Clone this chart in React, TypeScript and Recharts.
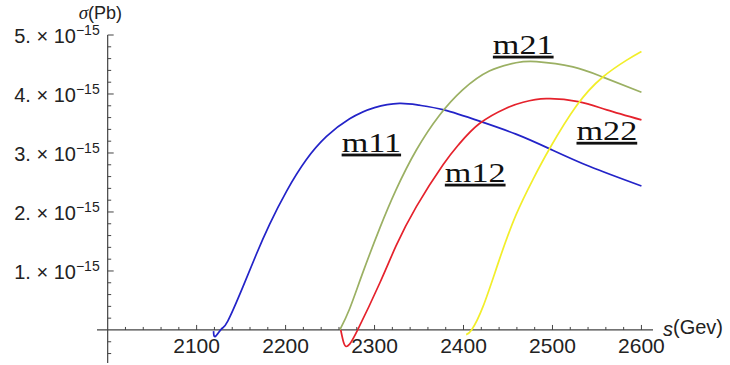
import React from "react";
import { LineChart, Line, XAxis, YAxis, ReferenceLine, ReferenceDot } from "recharts";

// s (GeV) and sigma (units of 1e-15 pb) for each curve
const m11S = [2119, 2121, 2128, 2135, 2152, 2167, 2182, 2201, 2223, 2246, 2272, 2300, 2328, 2350, 2378, 2418, 2459, 2497, 2542, 2600];
const m11V = [-0.02, -0.11, 0.02, 0.15, 0.73, 1.28, 1.79, 2.35, 2.88, 3.28, 3.58, 3.77, 3.84, 3.81, 3.73, 3.54, 3.32, 3.07, 2.77, 2.44];

const m21S = [2261, 2272, 2287, 2306, 2324, 2347, 2373, 2399, 2429, 2459, 2482, 2523, 2556, 2600];
const m21V = [0, 0.36, 0.98, 1.73, 2.37, 3.05, 3.64, 4.07, 4.39, 4.53, 4.55, 4.46, 4.29, 4.03];

const m12S = [2262, 2265, 2268, 2272, 2281, 2306, 2324, 2347, 2377, 2395, 2418, 2448, 2467, 2493, 2529, 2561, 2600];
const m12V = [0, -0.2, -0.28, -0.24, 0, 0.8, 1.42, 2.09, 2.8, 3.15, 3.5, 3.76, 3.86, 3.92, 3.87, 3.73, 3.56];

const m22S = [2403, 2409, 2422, 2440, 2459, 2478, 2497, 2527, 2556, 2583, 2600];
const m22V = [-0.08, 0, 0.4, 1.18, 1.95, 2.55, 3.08, 3.8, 4.28, 4.57, 4.72];

// axis ticks
const xMajorTicks = [2100, 2200, 2300, 2400, 2500, 2600];
const xMinorTicks = [2020, 2040, 2060, 2080, 2120, 2140, 2160, 2180, 2220, 2240, 2260, 2280, 2320, 2340, 2360, 2380, 2420, 2440, 2460, 2480, 2520, 2540, 2560, 2580];
const yMajorTicks = [1, 2, 3, 4, 5];
const yMinorTicks = [-0.4, -0.2, 0.2, 0.4, 0.6, 0.8, 1.2, 1.4, 1.6, 1.8, 2.2, 2.4, 2.6, 2.8, 3.2, 3.4, 3.6, 3.8, 4.2, 4.4, 4.6, 4.8];

// curve labels: [name, s, sigma]
const curveLabels: [string, number, number][] = [
  ["m11", 2263, 3.02],
  ["m12", 2379, 2.51],
  ["m21", 2433, 4.68],
  ["m22", 2527, 3.22],
];

const X_DOMAIN: [number, number] = [1988, 2613];
const Y_DOMAIN: [number, number] = [-0.56, 5.0];
const ORIGIN_X = 2000;

const toData = (s: number[], v: number[]) => s.map((x, i) => ({ s: x, v: v[i] }));

const AXIS = "#444";
const SANS = "'Liberation Sans', Arial, sans-serif";
const SERIF = "'Liberation Serif', 'Times New Roman', serif";

const xTickShape = (major: boolean, value: number) => (p: any) => (
  <g>
    <line x1={p.cx} y1={p.cy} x2={p.cx} y2={p.cy - (major ? 5 : 3)} stroke={AXIS} strokeWidth={1} />
    {major && (
      <text x={p.cx} y={p.cy + 23} textAnchor="middle" fontFamily={SANS} fontSize={21} fill="#222">
        {value}
      </text>
    )}
  </g>
);

const yTickShape = (major: boolean, value: number) => (p: any) => (
  <g>
    <line x1={p.cx} y1={p.cy} x2={p.cx + (major ? 6 : 3.5)} y2={p.cy} stroke={AXIS} strokeWidth={1} />
    {major && (
      <text x={p.cx - 8} y={p.cy + 8} textAnchor="end" fontFamily={SANS} fontSize={20} fill="#222">
        <tspan>{value}. × 10</tspan>
        <tspan dy={-8} fontSize={14}>−15</tspan>
      </text>
    )}
  </g>
);

const labelShape = (name: string) => (p: any) => (
  <g transform={`translate(${p.cx},${p.cy}) scale(1.22,1)`}>
    <text x={0} y={0} fontFamily={SERIF} fontSize={28} fill="#111" style={{ textDecoration: "underline" }}>
      {name}
    </text>
  </g>
);

const yTitleShape = (p: any) => (
  <text x={p.cx - 29} y={p.cy - 16} fontFamily={SANS} fontSize={18} fill="#222">
    <tspan fontStyle="italic" fontFamily={SERIF} fontSize={19}>σ</tspan>
    <tspan>(Pb)</tspan>
  </text>
);

const xTitleShape = (p: any) => (
  <text x={p.cx + 10} y={p.cy + 6} fontFamily={SANS} fontSize={20} fill="#222">
    <tspan fontStyle="italic">s</tspan>
    <tspan dy={-2}>(Gev)</tspan>
  </text>
);

export default function App() {
  return (
    <div style={{ position: "absolute", left: 0, top: 0, width: 730, height: 365, background: "#fff" }}>
      <LineChart width={730} height={365} margin={{ top: 35, right: 77, bottom: 2, left: 97 }}>
        <XAxis type="number" dataKey="s" domain={X_DOMAIN} allowDataOverflow hide height={0} />
        <YAxis type="number" dataKey="v" domain={Y_DOMAIN} allowDataOverflow hide width={0} />
        <ReferenceLine
          segment={[{ x: X_DOMAIN[0], y: 0 }, { x: X_DOMAIN[1], y: 0 }]}
          stroke={AXIS}
          strokeWidth={1.2}
          ifOverflow="visible"
        />
        <ReferenceLine
          segment={[{ x: ORIGIN_X, y: Y_DOMAIN[0] }, { x: ORIGIN_X, y: Y_DOMAIN[1] }]}
          stroke={AXIS}
          strokeWidth={1.2}
          ifOverflow="visible"
        />
        {xMajorTicks.map((t) => (
          <ReferenceDot key={"xM" + t} x={t} y={0} r={0} ifOverflow="visible" shape={xTickShape(true, t)} />
        ))}
        {xMinorTicks.map((t) => (
          <ReferenceDot key={"xm" + t} x={t} y={0} r={0} ifOverflow="visible" shape={xTickShape(false, t)} />
        ))}
        {yMajorTicks.map((t) => (
          <ReferenceDot key={"yM" + t} x={ORIGIN_X} y={t} r={0} ifOverflow="visible" shape={yTickShape(true, t)} />
        ))}
        {yMinorTicks.map((t) => (
          <ReferenceDot key={"ym" + t} x={ORIGIN_X} y={t} r={0} ifOverflow="visible" shape={yTickShape(false, t)} />
        ))}
        <ReferenceDot x={ORIGIN_X} y={Y_DOMAIN[1]} r={0} ifOverflow="visible" shape={yTitleShape} />
        <ReferenceDot x={X_DOMAIN[1]} y={0} r={0} ifOverflow="visible" shape={xTitleShape} />

        <Line data={toData(m11S, m11V)} dataKey="v" type="natural" stroke="#2323c8" strokeWidth={1.7} dot={false} isAnimationActive={false} />
        <Line data={toData(m21S, m21V)} dataKey="v" type="natural" stroke="#9bb063" strokeWidth={1.7} dot={false} isAnimationActive={false} />
        <Line data={toData(m12S, m12V)} dataKey="v" type="natural" stroke="#e5222c" strokeWidth={1.7} dot={false} isAnimationActive={false} />
        <Line data={toData(m22S, m22V)} dataKey="v" type="natural" stroke="#f2ee2a" strokeWidth={1.7} dot={false} isAnimationActive={false} />

        {curveLabels.map(([name, s, v]) => (
          <ReferenceDot key={name} x={s} y={v} r={0} ifOverflow="visible" shape={labelShape(name)} />
        ))}
      </LineChart>
    </div>
  );
}
